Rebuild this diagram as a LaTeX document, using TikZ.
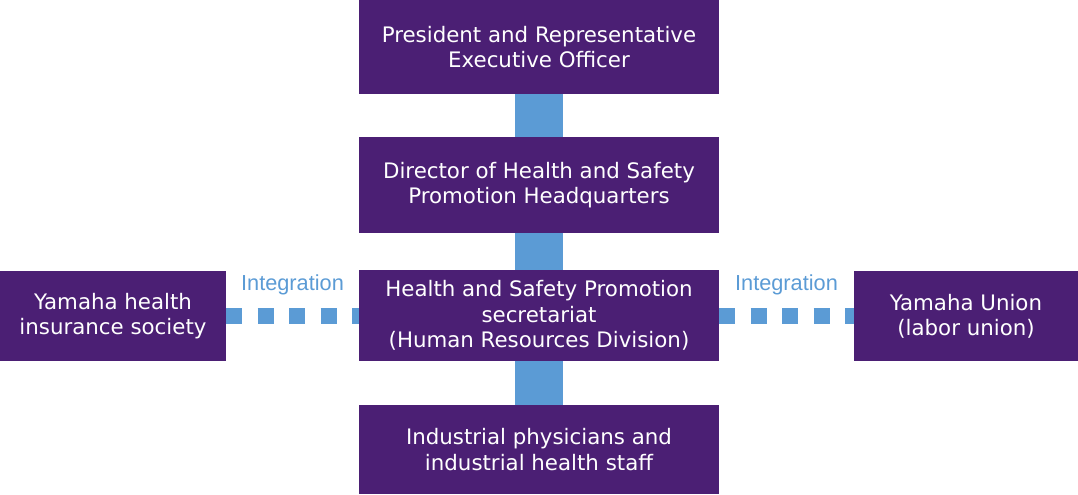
\documentclass[tikz,border=0pt]{standalone}
\usepackage{fontspec}
\setmainfont{DejaVu Sans}
\newfontfamily\labelfont{Liberation Sans}
\usetikzlibrary{positioning}
\definecolor{hspurple}{HTML}{4B1F74}
\definecolor{hsblue}{HTML}{5B9BD5}

\begin{document}
\begin{tikzpicture}[x=0.75pt,y=-0.75pt]
\tikzstyle{unit} = [rectangle, fill=hspurple, text=white, align=center, inner sep=0pt, font=\fontsize{16}{19}\selectfont]
\tikzstyle{link} = [hsblue, line width=36pt]
\tikzstyle{tie} = [hsblue, line width=12pt, dash pattern=on 12pt off 11.6pt]
\tikzstyle{tag} = [text=hsblue, anchor=base, font=\labelfont\fontsize{16.3}{19}\selectfont]
\useasboundingbox (0,0) rectangle (1078,494);
\node[unit, minimum width=270pt, minimum height=70.5pt] (pres) at (539,47) {President and Representative\\Executive Officer};
\node[unit, minimum width=270pt, minimum height=72pt] (dir) at (539,185) {Director of Health and Safety\\Promotion Headquarters};
\node[unit, minimum width=270pt, minimum height=68.25pt] (sec) at (539,315.5) {Health and Safety Promotion\\secretariat\\(Human Resources Division)};
\node[unit, minimum width=270pt, minimum height=66.75pt] (staff) at (539,449.5) {Industrial physicians and\\industrial health staff};
\node[unit, minimum width=169.5pt, minimum height=67.5pt] (insur) at (113,316) {Yamaha health\\insurance society};
\node[unit, minimum width=168pt, minimum height=67.5pt] (union) at (966,316) {Yamaha Union\\(labor union)};
\draw[link] (pres) -- (dir);
\draw[link] (dir) -- (sec);
\draw[link] (sec) -- (staff);
\draw[tie] (insur.east) -- (sec.west |- insur.east);
\draw[tie] (sec.east |- union.west) -- (union.west);
\node[tag] (tagl) at (292.5,290) {Integration};
\node[tag] (tagr) at (786.5,290) {Integration};
\end{tikzpicture}
\end{document}
